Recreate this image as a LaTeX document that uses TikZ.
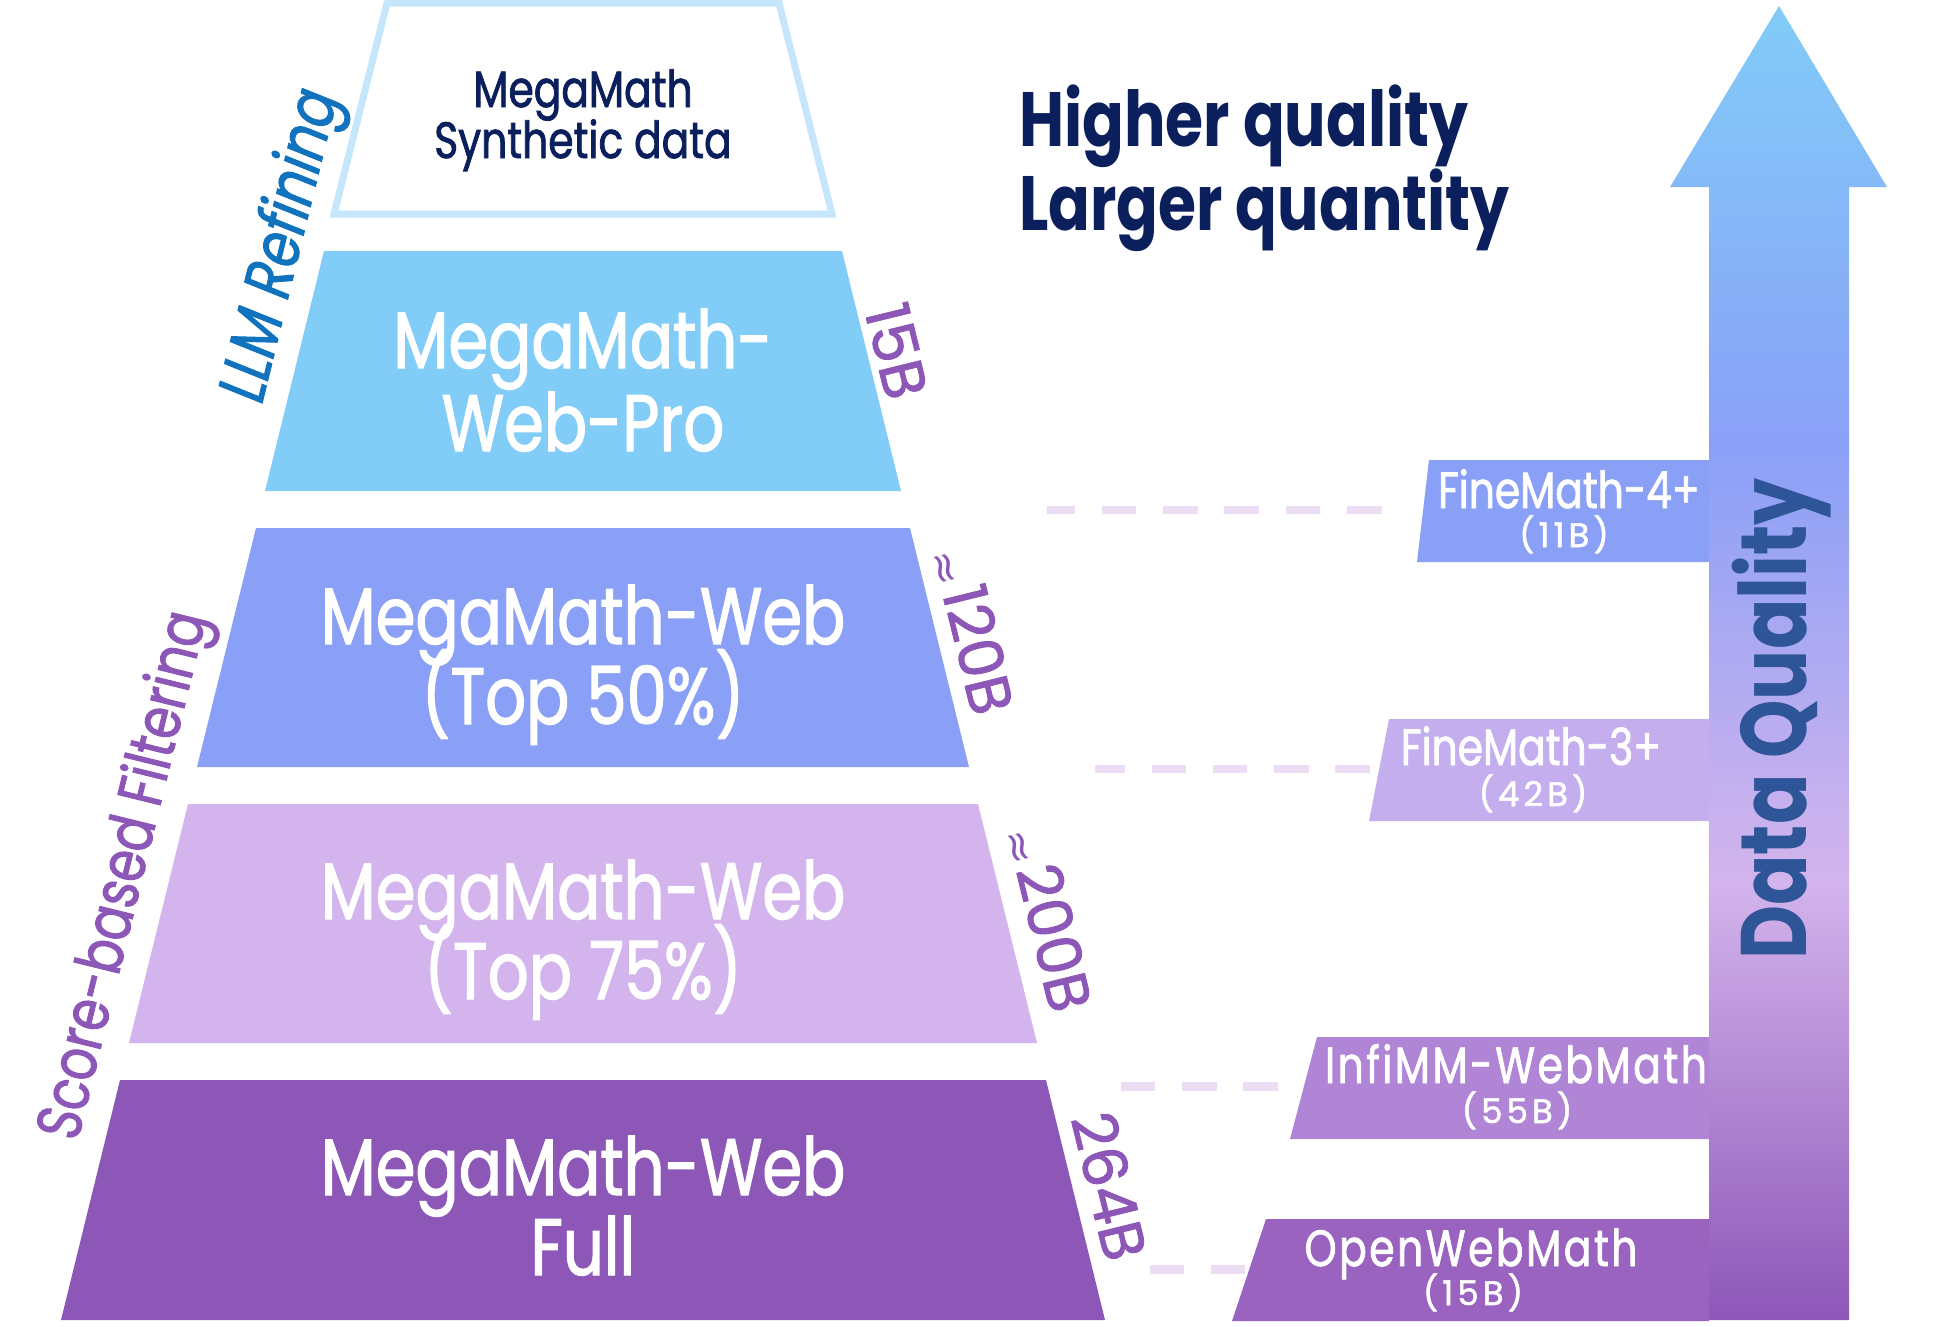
\documentclass[tikz,border=0pt]{standalone}
\usepackage{fontspec}
\setmainfont{Poppins}[FakeStretch=0.8, UprightFeatures={FakeBold=1.5}, ItalicFeatures={FakeBold=1.5}]
\newfontfamily\sizefont{Poppins}[Numbers=Monospaced, UprightFeatures={FakeBold=1.5}]
\newfontfamily\symbolfont{DejaVu Sans}
\usepackage{tikz}
\usetikzlibrary{calc}

\definecolor{navy}{HTML}{0B1F5C}
\definecolor{synthline}{HTML}{C6E6FB}
\definecolor{webpro}{HTML}{82CCF8}
\definecolor{topfifty}{HTML}{8AA0F7}
\definecolor{topseventy}{HTML}{D3B4EC}
\definecolor{webfull}{HTML}{8D57B8}
\definecolor{refineblue}{HTML}{1172BE}
\definecolor{qualityblue}{HTML}{2E5597}
\definecolor{linkpink}{HTML}{ECDDF4}
\definecolor{fmthree}{HTML}{C4AEEE}
\definecolor{infimm}{HTML}{B085D5}
\definecolor{openweb}{HTML}{9A63C0}

\pgfdeclareverticalshading{qualityshade}{100bp}{color(0bp)=(webfull); color(25bp)=(webfull);
  color(41.67bp)=(topseventy); color(58.33bp)=(topfifty); color(75bp)=(webpro); color(100bp)=(webpro)}

\newcommand{\tightlines}{\lineskiplimit-100pt\relax}
\newcommand{\approxsign}{\raisebox{-5pt}{\symbolfont\fontsize{42}{42}\selectfont ≈}\hspace{4pt}}

\tikzset{
	mainlabel/.style = {text=white, align=center, anchor=base, inner sep=0pt,
		font={\fontsize{80}{80}\selectfont\tightlines}},
	sizelabel/.style = {text=webfull, inner sep=0pt, rotate=-76.2, font={\sizefont\fontsize{61}{61}\selectfont}},
	sidelabel/.style = {inner sep=0pt, rotate=76.2, font={\fontsize{63}{63}\selectfont}},
	boxname/.style = {text=white, anchor=base, inner sep=0pt, font={\fontsize{51}{51}\selectfont}},
	boxsize/.style = {text=white, anchor=base, inner sep=0pt, font={\sizefont\fontsize{34}{34}\selectfont\addfontfeature{LetterSpace=12}}},
	linkdash/.style = {draw=linkpink, line width=8.5pt, dash pattern=on 34.6pt off 26.7pt}
}

\begin{document}
\begin{tikzpicture}[x=1pt, y=-1pt]
    \useasboundingbox (0,0) rectangle (1938,1326);
    % Layers
    \draw [draw=synthline, line width=7pt, fill=white] (387,3) -- (779,3) -- (832,214) -- (334,214) -- cycle;
    \fill [webpro] (324,251) -- (842,251) -- (901,491) -- (265,491) -- cycle;
    \fill [topfifty] (256,528) -- (910,528) -- (969,767) -- (197,767) -- cycle;
    \fill [topseventy] (188,804) -- (978,804) -- (1037,1043) -- (129,1043) -- cycle;
    \fill [webfull] (120,1080) -- (1046,1080) -- (1105,1320) -- (61,1320) -- cycle;

    \node (synth) [mainlabel, text=navy, font={\fontsize{51}{51}\selectfont\tightlines}] at (583,158) {MegaMath\\Synthetic data};
    \node (webpro) [mainlabel, font={\fontsize{80}{83}\selectfont\tightlines}] at (583,451) {MegaMath-\\Web-Pro};
    \node (top50) [mainlabel] at (583,724) {MegaMath-Web\\(Top 50\%)};
    \node (top75) [mainlabel] at (583,999) {MegaMath-Web\\(Top 75\%)};
    \node (full) [mainlabel] at (583,1275) {MegaMath-Web\\Full};

    % Sizes and stages
    \node (s15) [sizelabel] at (897,351) {15B};
    \node (s120) [sizelabel] at (972,631) {\approxsign120B};
    \node (s200) [sizelabel] at (1048,919) {\approxsign200B};
    \node (s264) [sizelabel] at (1110,1186) {264B};
    \node (refine) [sidelabel, text=refineblue, font={\fontsize{66}{66}\selectfont\itshape}] at (284,246) {LLM Refining};
    \node (filter) [sidelabel, text=webfull] at (127,876) {Score-based Filtering};

    \node (claim) [text=navy, align=left, anchor=base west, inner sep=0pt, font={\fontsize{77}{83.3}\selectfont\bfseries\tightlines}] at (1019,230) {Higher quality\\Larger quantity};

    % Other corpora
    \fill [topfifty] (1429,460) -- (1709,460) -- (1709,562) -- (1417,562) -- cycle;
    \fill [fmthree] (1389,719) -- (1709,719) -- (1709,821) -- (1369,821) -- cycle;
    \fill [infimm] (1317,1037) -- (1709,1037) -- (1709,1139) -- (1290,1139) -- cycle;
    \fill [openweb] (1266,1219) -- (1709,1219) -- (1709,1321) -- (1232,1321) -- cycle;

    % Arrow
    \shade [shading=qualityshade] (1709,1320) -- (1709,187) -- (1670,187) -- (1779,6) -- (1887,187) -- (1849,187) -- (1849,1320) -- cycle;
    \node (quality) [text=qualityblue, rotate=90, anchor=base, inner sep=0pt, font={\fontsize{93}{93}\selectfont\bfseries}] at (1806,719) {Data Quality};

    \node (fm4) [boxname] at (1569,508) {FineMath-4+};
    \node (fm4-size) [boxsize] at (1564,547) {(11B)};
    \node (fm3) [boxname] at (1531,765) {FineMath-3+};
    \node (fm3-size) [boxsize] at (1533,806) {(42B)};
    \node (infi) [boxname, font={\fontsize{51}{51}\selectfont\addfontfeature{LetterSpace=5}}] at (1516,1083) {InfiMM-WebMath};
    \node (infi-size) [boxsize] at (1517,1123) {(55B)};
    \node (owm) [boxname, font={\fontsize{51}{51}\selectfont\addfontfeature{LetterSpace=5}}] at (1471,1266) {OpenWebMath};
    \node (owm-size) [boxsize] at (1473,1305) {(15B)};

    % Links
    \coordinate (fm4-end) at (1381.5,510);
    \coordinate (fm4-start) at (1046.5,510);
    \coordinate (fm3-end) at (1370,769);
    \coordinate (fm3-start) at (1095,769);
    \coordinate (infi-end) at (1278,1086.5);
    \coordinate (infi-start) at (1120.8,1086.5);
    \coordinate (owm-end) at (1245.3,1269.5);
    \coordinate (owm-start) at (1149.6,1269.5);
    \draw [linkdash] (fm4-end) -- (fm4-start);
    \draw [linkdash] (fm3-end) -- (fm3-start);
    \draw [linkdash] (infi-end) -- (infi-start);
    \draw [linkdash] (owm-end) -- (owm-start);

\end{tikzpicture}
\end{document}
